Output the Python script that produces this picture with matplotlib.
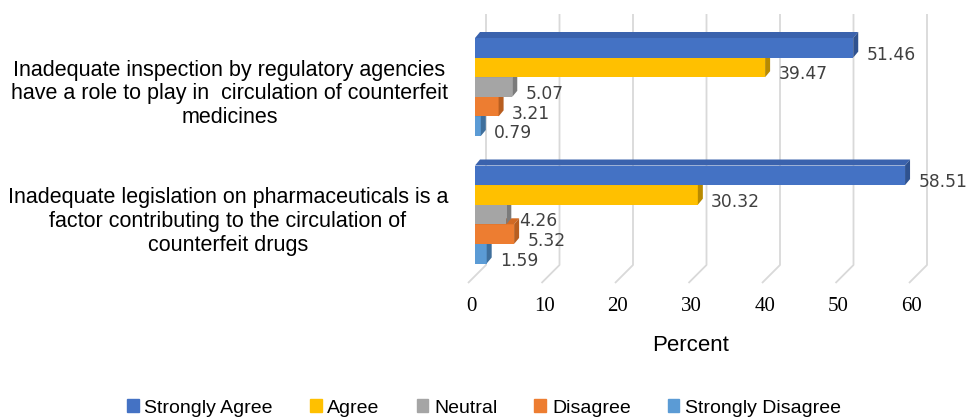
import matplotlib.pyplot as plt
from matplotlib.patches import Polygon, Patch
from matplotlib.transforms import ScaledTranslation

categories = [
    "Inadequate inspection by regulatory agencies\nhave a role to play in  circulation of counterfeit\nmedicines",
    "Inadequate legislation on pharmaceuticals is a\nfactor contributing to the circulation of\ncounterfeit drugs",
]
series_names = ["Strongly Agree", "Agree", "Neutral", "Disagree", "Strongly Disagree"]
strongly_agree = [51.46, 58.51]
agree = [39.47, 30.32]
neutral = [5.07, 4.26]
disagree = [3.21, 5.32]
strongly_disagree = [0.79, 1.59]
ticks = [0, 10, 20, 30, 40, 50, 60]

series = [strongly_agree, agree, neutral, disagree, strongly_disagree]
front_col = ["#4472C4", "#FFC000", "#A5A5A5", "#ED7D31", "#5B9BD5"]
side_col = ["#2F528F", "#B88A00", "#7B7B7B", "#B85E20", "#3F6F9C"]
top_col = ["#3A62AD", "#D9A300", "#8F8F8F", "#D06A25", "#4E88C0"]

W, H = 966, 419
fig = plt.figure(figsize=(W / 100, H / 100), dpi=100)

# axes placement in pixels
L, R, T, B = 455, 945, 10, 290
ax = fig.add_axes([L / W, 1 - B / H, (R - L) / W, (B - T) / H])
xpx, x0 = 7.35, 475    # px per unit, px of zero
ypx, y0 = 127.5, 87    # px per category, px of first category
ax.set_xlim((L - x0) / xpx, (R - x0) / xpx)
ax.set_ylim((B - y0) / ypx, (T - y0) / ypx)

def py(p):
    return (p - y0) / ypx

# back wall + floor gridlines
back_dx = 11 / xpx
floor_dx = -7 / xpx
for v in ticks:
    ax.plot([v + back_dx, v + back_dx, v + floor_dx], [py(14), py(265), py(283)],
            color="#d9d9d9", lw=1.3, zorder=1, solid_capstyle="butt")

h = 19.6 / ypx
dx = 5 / xpx
dy = 6 / ypx
for i, vals in enumerate(series):
    z = 10 + (4 - i)
    for c, v in enumerate(vals):
        yc = c + (i - 2) * h
        yt = yc - h / 2
        yb = yc + h / 2
        ax.barh(yc, v, height=h, color=front_col[i], zorder=z)
        ax.add_patch(Polygon([(0, yt), (v, yt), (v + dx, yt - dy), (dx, yt - dy)],
                             closed=True, color=top_col[i], zorder=z, lw=0))
        ax.add_patch(Polygon([(v, yt), (v, yb), (v + dx, yb - dy), (v + dx, yt - dy)],
                             closed=True, color=side_col[i], zorder=z, lw=0))
        ax.annotate(f"{v:.2f}", (v, yc), xytext=(9.5, -5), textcoords="offset points",
                    ha="left", va="center", fontsize=12.3, color="#404040",
                    family="DejaVu Sans", zorder=20, annotation_clip=False)

for s in ax.spines.values():
    s.set_visible(False)

ax.set_xticks(ticks)
ax.set_xticklabels([str(t) for t in ticks], family="Liberation Serif", fontsize=15)
ax.tick_params(axis="x", length=0, pad=5)
shift = ScaledTranslation(-4 / 100, 0, fig.dpi_scale_trans)
for lbl in ax.get_xticklabels():
    lbl.set_transform(lbl.get_transform() + shift)

ax.set_yticks([0, 1])
ax.set_yticklabels(categories, family="Liberation Sans", fontsize=15.5,
                   multialignment="center", linespacing=1.17)
ax.tick_params(axis="y", length=0, pad=5)
lift = ScaledTranslation(0, -3 / 100, fig.dpi_scale_trans)
for lbl in ax.get_yticklabels():
    lbl.set_transform(lbl.get_transform() + lift)

fig.text(691 / W, 1 - 345 / H, "Percent", ha="center", va="center",
         fontsize=16, family="Liberation Sans")

handles = [Patch(color=c) for c in front_col]
fig.legend(handles, series_names, loc="center", bbox_to_anchor=(484 / W, 1 - 408 / H),
           ncol=5, frameon=False, handlelength=0.6, handleheight=0.6,
           handletextpad=0.3, columnspacing=1.9, prop={"family": "Liberation Sans", "size": 14})

fig.savefig("out.png", dpi=100)
